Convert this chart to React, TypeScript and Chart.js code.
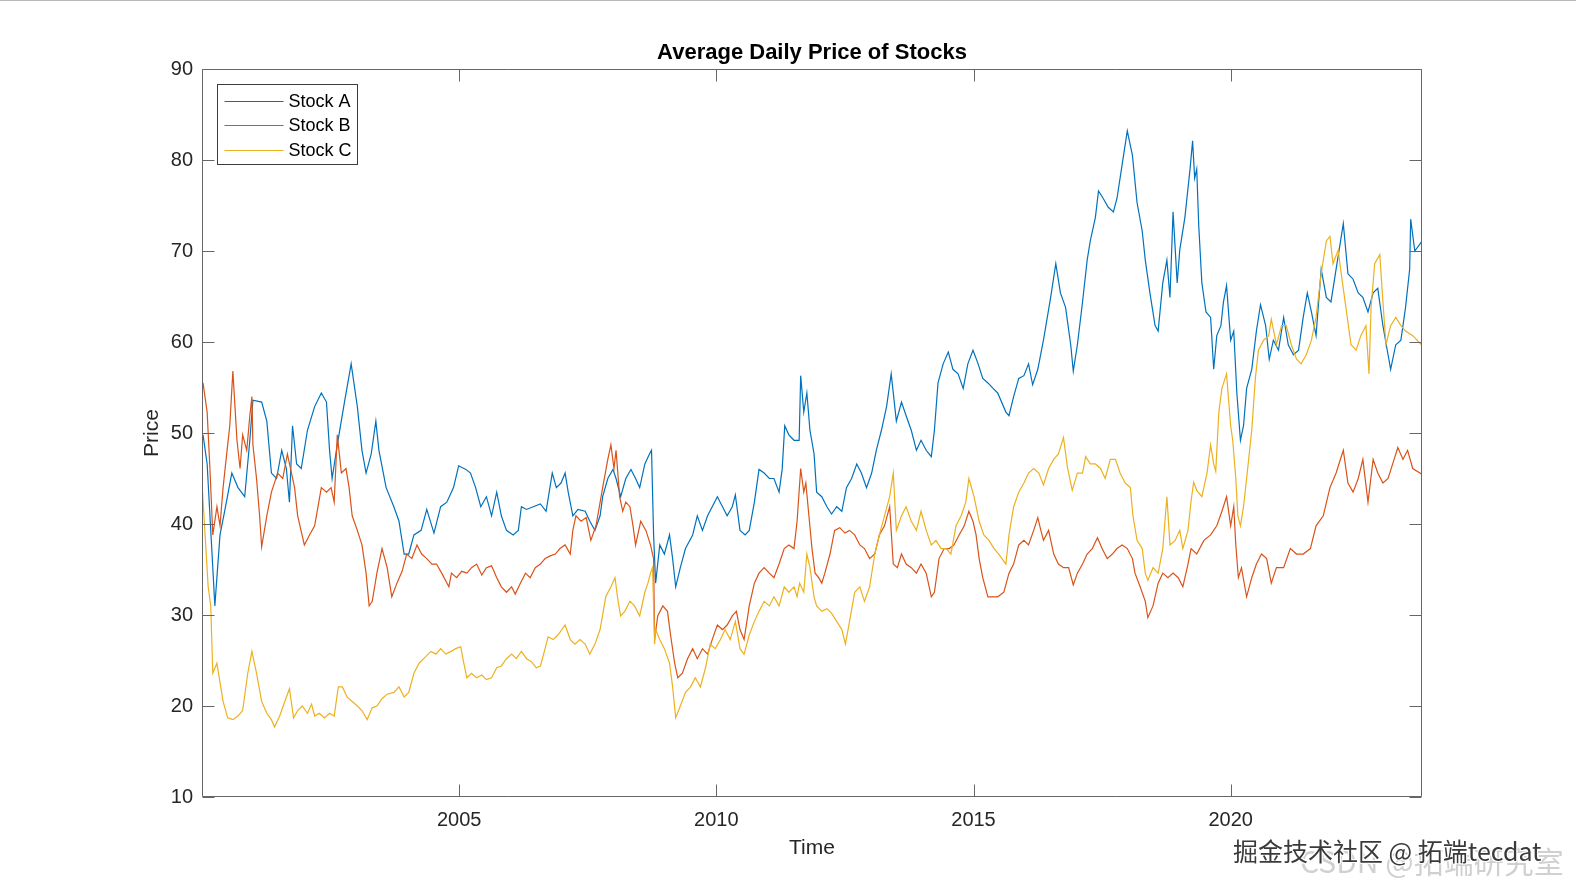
import React, { useEffect, useRef } from "react";
import { Chart, registerables } from "chart.js";

Chart.register(...registerables);

// ---------------- data ----------------
const BASE_YEAR = 2000;
const X_MIN = 2000;
const X_MAX = 2023.72;
const Y_MIN = 10;
const Y_MAX = 90;
const Y_STEP = 10;
const X_TICKS = [2005, 2010, 2015, 2020];

const TITLE = "Average Daily Price of Stocks";
const X_TITLE = "Time";
const Y_TITLE = "Price";
const SERIES_LABELS = ["Stock A", "Stock B", "Stock C"];
const SERIES_COLORS = ["#0072BD", "#D95319", "#EDB120"];

// years after BASE_YEAR
const stockATime = [
  0.02, 0.10, 0.15, 0.25, 0.35, 0.44, 0.58, 0.70, 0.83, 0.93,
  0.99, 1.16, 1.26, 1.35, 1.45, 1.55, 1.64, 1.70, 1.76, 1.84,
  1.93, 2.05, 2.19, 2.32, 2.42, 2.48, 2.53, 2.63, 2.77, 2.90,
  3.02, 3.11, 3.19, 3.29, 3.38, 3.44, 3.58, 3.73, 3.83, 3.93,
  4.02, 4.12, 4.26, 4.37, 4.51, 4.64, 4.76, 4.89, 4.99, 5.13,
  5.22, 5.32, 5.42, 5.53, 5.63, 5.73, 5.82, 5.92, 6.05, 6.15,
  6.21, 6.31, 6.44, 6.58, 6.69, 6.81, 6.89, 6.98, 7.06, 7.12,
  7.21, 7.31, 7.45, 7.54, 7.64, 7.74, 7.79, 7.89, 7.99, 8.05,
  8.14, 8.24, 8.34, 8.43, 8.51, 8.61, 8.70, 8.74, 8.78, 8.82,
  8.90, 8.99, 9.09, 9.15, 9.21, 9.30, 9.40, 9.54, 9.63, 9.73,
  9.83, 9.92, 10.02, 10.12, 10.21, 10.31, 10.37, 10.46, 10.56, 10.64,
  10.74, 10.83, 10.93, 11.03, 11.12, 11.22, 11.28, 11.33, 11.41, 11.51,
  11.61, 11.64, 11.70, 11.76, 11.82, 11.90, 11.95, 12.05, 12.15, 12.24,
  12.34, 12.44, 12.53, 12.63, 12.73, 12.82, 12.92, 13.02, 13.11, 13.21,
  13.31, 13.40, 13.50, 13.60, 13.69, 13.79, 13.89, 13.98, 14.08, 14.18,
  14.24, 14.31, 14.41, 14.51, 14.60, 14.70, 14.80, 14.89, 14.99, 15.09,
  15.18, 15.28, 15.38, 15.47, 15.63, 15.69, 15.78, 15.88, 15.98, 16.07,
  16.15, 16.25, 16.36, 16.50, 16.60, 16.69, 16.79, 16.89, 16.94, 17.02,
  17.12, 17.21, 17.27, 17.37, 17.43, 17.52, 17.62, 17.72, 17.79, 17.89,
  17.99, 18.09, 18.18, 18.28, 18.34, 18.43, 18.53, 18.59, 18.68, 18.76,
  18.82, 18.88, 18.96, 19.01, 19.11, 19.21, 19.26, 19.30, 19.34, 19.38,
  19.44, 19.52, 19.61, 19.67, 19.73, 19.81, 19.86, 19.92, 20.00, 20.06,
  20.12, 20.19, 20.25, 20.31, 20.41, 20.50, 20.58, 20.68, 20.75, 20.83,
  20.93, 21.03, 21.12, 21.22, 21.32, 21.41, 21.49, 21.57, 21.66, 21.76,
  21.86, 21.95, 22.05, 22.19, 22.28, 22.38, 22.48, 22.57, 22.67, 22.77,
  22.86, 22.96, 23.06, 23.11, 23.21, 23.31, 23.40, 23.48, 23.50, 23.58,
  23.71,
];
const stockAValues = [
  49.8, 46.6, 41.4, 31, 38.8, 41.4, 45.6, 44, 43, 49.2,
  53.6, 53.4, 51.3, 45.6, 45, 48.1, 46.1, 42.4, 50.8, 46.6,
  46.1, 50.3, 52.9, 54.4, 53.4, 48.1, 45, 48.7, 53.4, 57.6,
  52.9, 48.1, 45.6, 47.7, 51.3, 48.1, 44, 41.9, 40.3, 36.7,
  36.7, 38.8, 39.3, 41.6, 39, 41.9, 42.4, 44, 46.4, 46,
  45.6, 44, 41.9, 43, 40.9, 43.5, 40.9, 39.3, 38.8, 39.3,
  41.9, 41.6, 41.9, 42.2, 41.4, 45.6, 44, 44.5, 45.6, 43.5,
  40.9, 41.6, 41.4, 40.3, 39.3, 40.9, 43, 45, 46, 45,
  43, 45, 46, 45, 44, 46.6, 47.7, 48.1, 38.8, 33.5,
  37.7, 36.7, 38.8, 36.2, 33.1, 35.2, 37.3, 38.8, 40.9, 39.3,
  40.9, 41.9, 43, 41.9, 40.9, 41.9, 43.2, 39.3, 38.8, 39.3,
  42.4, 46, 45.6, 45, 45, 43.5, 46, 50.8, 49.8, 49.2,
  49.2, 56.3, 52.3, 54.4, 50.3, 47.7, 43.5, 43, 41.9, 41.1,
  41.9, 41.4, 44, 45, 46.6, 45.6, 44, 45.6, 48.1, 50.3,
  52.9, 56.5, 51.3, 53.4, 51.9, 50.3, 48.1, 49.2, 48.1, 47.4,
  50.3, 55.5, 57.6, 58.9, 57, 56.5, 54.9, 57.6, 59.1, 57.6,
  56, 55.5, 54.9, 54.4, 52.3, 51.9, 54, 56, 56.3, 57.6,
  55.3, 57, 60.2, 64.9, 68.6, 65.4, 63.8, 59.7, 56.8, 59.7,
  64.4, 69, 71.1, 73.7, 76.6, 75.8, 74.8, 74.3, 75.8, 79.5,
  83.2, 80.5, 75.3, 72.2, 69, 65.4, 61.8, 61.2, 66.5, 69,
  64.9, 74.3, 66.5, 70.1, 73.7, 79, 82.1, 78, 79, 72.7,
  66.5, 63.3, 62.7, 57, 60.7, 61.8, 64.4, 66.2, 60.2, 61.2,
  54.4, 49.2, 50.8, 54.9, 57, 61.2, 64.1, 61.8, 58.1, 60.2,
  59.1, 62.7, 59.7, 58.6, 59.1, 62.7, 65.4, 63.3, 60.7, 68,
  64.9, 64.4, 68, 73, 67.5, 66.9, 65.4, 64.9, 63.3, 65.4,
  65.9, 61.8, 58.6, 57, 59.7, 60.2, 63.8, 68, 73.5, 70,
  71,
];

const stockBTime = [
  0.02, 0.10, 0.15, 0.21, 0.29, 0.35, 0.41, 0.48, 0.54, 0.60,
  0.68, 0.74, 0.79, 0.87, 0.93, 0.97, 0.99, 1.06, 1.12, 1.16,
  1.26, 1.35, 1.47, 1.57, 1.66, 1.74, 1.80, 1.86, 1.99, 2.09,
  2.19, 2.32, 2.42, 2.51, 2.57, 2.63, 2.71, 2.80, 2.86, 2.92,
  3.02, 3.11, 3.19, 3.25, 3.31, 3.40, 3.50, 3.60, 3.69, 3.79,
  3.89, 3.98, 4.08, 4.18, 4.27, 4.37, 4.47, 4.56, 4.66, 4.80,
  4.85, 4.95, 5.05, 5.15, 5.24, 5.34, 5.44, 5.53, 5.63, 5.73,
  5.82, 5.92, 6.02, 6.09, 6.19, 6.29, 6.38, 6.48, 6.58, 6.67,
  6.77, 6.87, 6.96, 7.06, 7.16, 7.21, 7.27, 7.37, 7.47, 7.56,
  7.66, 7.79, 7.89, 7.95, 8.01, 8.05, 8.12, 8.18, 8.24, 8.32,
  8.38, 8.43, 8.53, 8.63, 8.72, 8.78, 8.80, 8.86, 8.96, 9.05,
  9.11, 9.19, 9.25, 9.34, 9.44, 9.54, 9.63, 9.73, 9.83, 9.92,
  10.02, 10.12, 10.21, 10.31, 10.39, 10.46, 10.54, 10.64, 10.74, 10.83,
  10.93, 11.03, 11.12, 11.22, 11.32, 11.41, 11.51, 11.57, 11.64, 11.70,
  11.74, 11.80, 11.86, 11.92, 11.99, 12.05, 12.11, 12.21, 12.30, 12.40,
  12.50, 12.59, 12.69, 12.79, 12.88, 12.98, 13.08, 13.17, 13.27, 13.37,
  13.44, 13.52, 13.60, 13.69, 13.79, 13.89, 13.98, 14.08, 14.18, 14.24,
  14.33, 14.43, 14.53, 14.62, 14.72, 14.82, 14.91, 14.99, 15.05, 15.11,
  15.18, 15.28, 15.38, 15.47, 15.59, 15.69, 15.78, 15.88, 15.98, 16.07,
  16.17, 16.25, 16.31, 16.36, 16.46, 16.56, 16.65, 16.75, 16.85, 16.94,
  17.02, 17.12, 17.21, 17.31, 17.41, 17.50, 17.60, 17.70, 17.79, 17.89,
  17.99, 18.09, 18.14, 18.24, 18.34, 18.39, 18.49, 18.59, 18.68, 18.78,
  18.88, 18.98, 19.07, 19.17, 19.23, 19.34, 19.48, 19.61, 19.73, 19.83,
  19.92, 20.00, 20.06, 20.10, 20.15, 20.21, 20.31, 20.41, 20.50, 20.60,
  20.70, 20.79, 20.89, 21.03, 21.16, 21.28, 21.41, 21.55, 21.66, 21.80,
  21.93, 22.05, 22.19, 22.28, 22.38, 22.48, 22.57, 22.67, 22.77, 22.86,
  22.96, 23.06, 23.15, 23.25, 23.35, 23.44, 23.54, 23.71,
];
const stockBValues = [
  55.5, 52.3, 46.6, 38.8, 41.9, 39.8, 44, 47.7, 50.8, 56.8,
  49.2, 46.1, 49.8, 48.1, 51.9, 54, 48.7, 45, 40.9, 37.5,
  40.9, 43.5, 45.6, 45, 47.7, 45.6, 44, 40.9, 37.7, 38.8,
  39.8, 44, 43.5, 44, 42.4, 49.8, 45.6, 46.1, 44, 40.9,
  39.3, 37.7, 34.6, 31, 31.5, 34.6, 37.3, 35.2, 32, 33.5,
  34.8, 36.7, 36.2, 37.7, 36.7, 36.2, 35.6, 35.6, 34.6, 33.1,
  34.6, 34.1, 34.8, 34.6, 35.2, 35.6, 34.4, 35.2, 35.4, 34.1,
  33.1, 32.5, 33.1, 32.3, 33.5, 34.6, 34.1, 35.2, 35.6, 36.2,
  36.5, 36.7, 37.3, 37.7, 36.7, 39.3, 40.9, 40.3, 40.7, 38.2,
  39.8, 44, 47.1, 48.7, 46.1, 48.1, 43, 41.4, 42.4, 41.9,
  39.8, 37.7, 40.3, 39.3, 37.7, 36.2, 27.3, 29.9, 31, 30.4,
  27.8, 24.7, 23.1, 23.6, 25.2, 26.3, 25.2, 26.3, 25.7, 27.3,
  28.9, 28.4, 28.9, 29.9, 30.4, 28.4, 27.3, 31, 33.5, 34.6,
  35.2, 34.6, 34.1, 35.6, 37.3, 37.7, 37.3, 40.3, 46.1, 43.5,
  44.5, 40.9, 37.3, 34.6, 34.1, 33.5, 34.6, 36.7, 39.3, 39.6,
  39, 39.3, 38.8, 37.7, 37.3, 36.2, 36.7, 38.8, 39.8, 41.9,
  35.6, 35.2, 36.7, 35.6, 35.2, 34.6, 35.6, 34.6, 32, 32.5,
  36.2, 37.3, 37.3, 37.7, 38.8, 39.8, 41.4, 40.3, 38.8, 36.2,
  34.1, 32, 32, 32, 32.5, 34.6, 35.6, 37.7, 38.2, 37.7,
  39.3, 40.7, 39.3, 38.2, 39.3, 36.7, 35.6, 35.2, 35.2, 33.3,
  34.6, 35.6, 36.7, 37.3, 38.5, 37.3, 36.2, 36.7, 37.3, 37.7,
  37.3, 36.2, 34.6, 33.1, 31.5, 29.7, 31, 33.5, 34.6, 34.1,
  34.6, 34.1, 33.1, 35.6, 37.3, 36.7, 38.2, 38.8, 39.8, 41.4,
  43, 39.8, 41.9, 37.7, 34.1, 35.2, 32, 34.1, 35.6, 36.7,
  36.2, 33.5, 35.2, 35.2, 37.3, 36.7, 36.7, 37.3, 39.8, 40.9,
  44, 45.6, 48.1, 44.5, 43.5, 45, 47.1, 42.4, 47.1, 45.6,
  44.5, 45, 46.6, 48.4, 47.1, 48.1, 46.1, 45.5,
];

const stockCTime = [
  0.00, 0.06, 0.12, 0.17, 0.21, 0.29, 0.35, 0.41, 0.50, 0.60,
  0.70, 0.79, 0.89, 0.97, 1.06, 1.16, 1.26, 1.35, 1.41, 1.51,
  1.61, 1.70, 1.78, 1.86, 1.95, 2.05, 2.13, 2.19, 2.28, 2.38,
  2.48, 2.57, 2.65, 2.73, 2.82, 2.92, 3.02, 3.11, 3.21, 3.31,
  3.40, 3.50, 3.60, 3.73, 3.83, 3.93, 4.02, 4.12, 4.22, 4.31,
  4.45, 4.55, 4.64, 4.74, 4.84, 4.93, 5.03, 5.09, 5.15, 5.24,
  5.34, 5.44, 5.53, 5.63, 5.73, 5.82, 5.92, 6.02, 6.11, 6.21,
  6.31, 6.40, 6.50, 6.58, 6.67, 6.73, 6.83, 6.92, 7.06, 7.16,
  7.25, 7.35, 7.45, 7.54, 7.64, 7.74, 7.85, 7.95, 8.03, 8.09,
  8.14, 8.22, 8.32, 8.41, 8.51, 8.61, 8.67, 8.72, 8.76, 8.80,
  8.82, 8.90, 8.99, 9.09, 9.15, 9.21, 9.30, 9.40, 9.50, 9.59,
  9.69, 9.79, 9.88, 9.98, 10.08, 10.17, 10.27, 10.37, 10.46, 10.54,
  10.64, 10.74, 10.83, 10.93, 11.03, 11.12, 11.22, 11.32, 11.41, 11.51,
  11.57, 11.62, 11.70, 11.76, 11.82, 11.90, 11.95, 12.05, 12.15, 12.24,
  12.34, 12.44, 12.51, 12.59, 12.69, 12.79, 12.88, 12.98, 13.08, 13.17,
  13.27, 13.37, 13.44, 13.50, 13.60, 13.69, 13.79, 13.89, 13.98, 14.08,
  14.18, 14.27, 14.37, 14.47, 14.56, 14.66, 14.76, 14.85, 14.91, 15.01,
  15.11, 15.20, 15.30, 15.40, 15.49, 15.63, 15.69, 15.78, 15.88, 15.98,
  16.07, 16.17, 16.27, 16.36, 16.46, 16.56, 16.65, 16.75, 16.83, 16.92,
  17.02, 17.12, 17.18, 17.27, 17.37, 17.47, 17.56, 17.66, 17.76, 17.85,
  17.95, 18.05, 18.10, 18.18, 18.28, 18.34, 18.39, 18.49, 18.59, 18.68,
  18.76, 18.82, 18.92, 19.01, 19.07, 19.17, 19.23, 19.28, 19.34, 19.44,
  19.54, 19.61, 19.67, 19.71, 19.77, 19.83, 19.92, 20.00, 20.04, 20.10,
  20.14, 20.19, 20.25, 20.35, 20.41, 20.48, 20.54, 20.64, 20.74, 20.79,
  20.89, 20.99, 21.08, 21.18, 21.28, 21.37, 21.47, 21.57, 21.66, 21.76,
  21.86, 21.93, 21.99, 22.09, 22.15, 22.24, 22.34, 22.44, 22.53, 22.63,
  22.69, 22.73, 22.80, 22.90, 22.96, 23.02, 23.11, 23.21, 23.31, 23.40,
  23.54, 23.71,
];
const stockCValues = [
  44.5, 38.8, 33.1, 31, 23.6, 24.7, 22.6, 20.5, 18.7, 18.5,
  18.9, 19.5, 23.6, 26, 23.6, 20.5, 19.2, 18.5, 17.7, 18.9,
  20.5, 21.9, 18.7, 19.5, 20, 19.2, 20.2, 18.9, 19.2, 18.7,
  19.2, 18.9, 22.1, 22.1, 21, 20.5, 20, 19.5, 18.5, 19.8,
  20, 20.8, 21.3, 21.5, 22.1, 21, 21.5, 23.6, 24.7, 25.2,
  26, 25.7, 26.3, 25.7, 26, 26.3, 26.5, 24.7, 23.1, 23.6,
  23.1, 23.4, 22.9, 23.1, 24.2, 24.4, 25.2, 25.7, 25.2, 26,
  25.2, 24.9, 24.2, 24.4, 26.3, 27.6, 27.3, 27.8, 28.9, 27.3,
  26.8, 27.3, 26.8, 25.7, 26.8, 28.4, 32, 33.1, 34.1, 31.5,
  29.9, 30.4, 31.5, 31, 29.9, 32.5, 33.5, 34.6, 35.2, 26.8,
  28.4, 27.3, 26.3, 24.7, 22.1, 18.7, 20, 21.5, 22.1, 23.1,
  22.1, 24.2, 26.8, 26.3, 27.3, 28.4, 27.3, 29.3, 26.3, 25.7,
  27.8, 29.3, 30.4, 31.5, 31, 32, 31, 33.1, 32.5, 33.1,
  32, 33.5, 32.5, 36.7, 35.2, 32, 31, 30.4, 30.7, 30.2,
  29.3, 28.4, 26.8, 29.3, 32.5, 33.1, 31.5, 33.1, 36.7, 38.8,
  40.9, 43, 45.6, 39.3, 40.9, 41.9, 40.3, 39.3, 41.4, 39.3,
  37.7, 38.2, 37.3, 37.3, 36.7, 39.8, 40.9, 42.4, 45, 43,
  40.3, 38.8, 38.2, 37.3, 36.7, 35.6, 38.8, 41.9, 43.5, 44.5,
  45.6, 46.1, 45.6, 44.3, 46.1, 47.1, 47.7, 49.5, 46.1, 43.7,
  45.6, 45.6, 47.4, 46.6, 46.6, 46.1, 45, 47.1, 47.1, 45.6,
  44.5, 44, 40.9, 38.2, 37.3, 34.6, 33.8, 35.2, 34.6, 37.3,
  43, 37.7, 38.2, 39.3, 37.3, 39.3, 42.5, 44.6, 43.7, 43,
  45.6, 48.7, 46.6, 45.8, 52.3, 54.9, 56.5, 50.8, 49.2, 45,
  40.9, 39.8, 41.9, 47.1, 50.3, 56, 59.1, 60.2, 60.7, 62.5,
  59.7, 61.8, 61.8, 59.7, 58.1, 57.6, 58.6, 60.2, 62.7, 67.5,
  71.1, 71.6, 68.6, 70.1, 67.5, 63.8, 59.7, 59.1, 60.7, 61.8,
  56.5, 63.8, 68.6, 69.6, 64.4, 59.7, 61.8, 62.7, 61.8, 61.2,
  60.7, 59.7,
];

const SERIES_TIMES = [stockATime, stockBTime, stockCTime];
const SERIES_VALUES = [stockAValues, stockBValues, stockCValues];

// ---------------- styling ----------------
const FONT = "'Liberation Sans', Arial, Helvetica, sans-serif";
const AXIS_COLOR = "#666666";
const TEXT_COLOR = "#262626";

const matlabAxesPlugin = {
  id: "matlabAxes",
  afterDatasetsDraw(chart: any) {
    const { ctx, chartArea: a, scales } = chart;
    const xs = scales.x;
    const ys = scales.y;
    const L = Math.round(a.left) + 0.5;
    const R = Math.round(a.right) - 0.5;
    const T = Math.round(a.top) + 0.5;
    const B = Math.round(a.bottom) - 0.5;
    const TL = 12;
    ctx.save();
    ctx.strokeStyle = AXIS_COLOR;
    ctx.lineWidth = 1;
    ctx.beginPath();
    ctx.rect(L, T, R - L, B - T);
    ys.ticks.forEach((t: any) => {
      const py = Math.round(ys.getPixelForValue(t.value)) + 0.5;
      ctx.moveTo(L, py);
      ctx.lineTo(L + TL, py);
      ctx.moveTo(R, py);
      ctx.lineTo(R - TL, py);
    });
    xs.ticks.forEach((t: any) => {
      const px = Math.round(xs.getPixelForValue(t.value)) + 0.5;
      ctx.moveTo(px, B);
      ctx.lineTo(px, B - TL);
      ctx.moveTo(px, T);
      ctx.lineTo(px, T + TL);
    });
    ctx.stroke();

    // legend box (MATLAB "northwest")
    const lx = L + 15;
    const ly = T + 15;
    const lw = 140;
    const rowH = 24.5;
    const lh = 80;
    ctx.fillStyle = "#ffffff";
    ctx.fillRect(lx, ly, lw, lh);
    ctx.strokeStyle = "#3c3c3c";
    ctx.strokeRect(lx, ly, lw, lh);
    ctx.font = `18px ${FONT}`;
    ctx.textBaseline = "middle";
    ctx.textAlign = "left";
    chart.data.datasets.forEach((ds: any, i: number) => {
      const yy = Math.round(ly + 16 + i * rowH) + 0.5;
      ctx.strokeStyle = ds.borderColor;
      ctx.lineWidth = 1.2;
      ctx.beginPath();
      ctx.moveTo(lx + 7, yy);
      ctx.lineTo(lx + 66, yy);
      ctx.stroke();
      ctx.fillStyle = "#000000";
      ctx.fillText(ds.label, lx + 71, yy + 1);
    });

    // title and axis labels
    const cx = (a.left + a.right) / 2;
    ctx.fillStyle = "#000000";
    ctx.textAlign = "center";
    ctx.font = `bold 22px ${FONT}`;
    ctx.fillText(TITLE, cx, a.top - 16);
    ctx.fillStyle = TEXT_COLOR;
    ctx.font = `21px ${FONT}`;
    ctx.fillText(X_TITLE, cx, a.bottom + 51);
    ctx.save();
    ctx.translate(a.left - 50, (a.top + a.bottom) / 2);
    ctx.rotate(-Math.PI / 2);
    ctx.fillText(Y_TITLE, 0, 0);
    ctx.restore();
    ctx.restore();
  },
};

export default function App() {
  const canvasRef = useRef<HTMLCanvasElement | null>(null);

  useEffect(() => {
    const canvas = canvasRef.current;
    if (!canvas) return;
    const datasets = SERIES_LABELS.map((label, i) => ({
      label,
      data: SERIES_TIMES[i].map((t, k) => ({ x: BASE_YEAR + t, y: SERIES_VALUES[i][k] })),
      borderColor: SERIES_COLORS[i],
      backgroundColor: SERIES_COLORS[i],
      borderWidth: 1.2,
      pointRadius: 0,
      fill: false,
      tension: 0,
      order: SERIES_LABELS.length - 1 - i,
    }));
    const chart = new Chart(canvas, {
      type: "line",
      data: { datasets },
      options: {
        animation: false,
        responsive: false,
        devicePixelRatio: 1,
        layout: { padding: { top: 69, right: 154, left: 0, bottom: 0 } },
        plugins: {
          legend: { display: false },
          title: { display: false },
          tooltip: { enabled: false },
        },
        scales: {
          x: {
            type: "linear",
            min: X_MIN,
            max: X_MAX,
            grid: { display: false, drawTicks: false },
            border: { display: false },
            afterBuildTicks: (s: any) => {
              s.ticks = X_TICKS.map((v) => ({ value: v }));
            },
            afterFit: (s: any) => {
              s.height = 97;
            },
            ticks: {
              callback: (v: any) => String(v),
              color: TEXT_COLOR,
              font: { size: 20, family: FONT },
              padding: 11,
              maxRotation: 0,
              autoSkip: false,
            },
          },
          y: {
            type: "linear",
            min: Y_MIN,
            max: Y_MAX,
            grid: { display: false, drawTicks: false },
            border: { display: false },
            afterFit: (s: any) => {
              s.width = 202;
            },
            ticks: {
              stepSize: Y_STEP,
              color: TEXT_COLOR,
              font: { size: 20, family: FONT },
              padding: 9,
            },
          },
        },
      } as any,
      plugins: [matlabAxesPlugin],
    });
    return () => chart.destroy();
  }, []);

  return (
    <div
      style={{
        position: "absolute",
        left: 0,
        top: 0,
        width: 1576,
        height: 894,
        background: "#ffffff",
        overflow: "hidden",
      }}
    >
      <div style={{ position: "absolute", left: 0, top: 0, width: 1576, height: 1, background: "#b8b8b8" }} />
      <canvas ref={canvasRef} width={1576} height={894} style={{ display: "block", width: 1576, height: 894 }} />
      <div
        style={{
          position: "absolute",
          left: 1300,
          top: 842,
          fontFamily: "'Noto Sans CJK SC', sans-serif",
          fontSize: 30,
          lineHeight: "36px",
          color: "rgba(170,170,170,0.55)",
          whiteSpace: "nowrap",
        }}
      >
        CSDN @拓端研究室
      </div>
      <div
        style={{
          position: "absolute",
          left: 1233,
          top: 834,
          fontFamily: "'Noto Sans CJK SC', sans-serif",
          fontSize: 25,
          lineHeight: "32px",
          color: "#3a3a3a",
          whiteSpace: "nowrap",
          textShadow: "1px 1px 0 #fff, -1px -1px 0 #fff, 1px -1px 0 #fff, -1px 1px 0 #fff",
        }}
      >
        掘金技术社区 @ 拓端tecdat
      </div>
    </div>
  );
}
